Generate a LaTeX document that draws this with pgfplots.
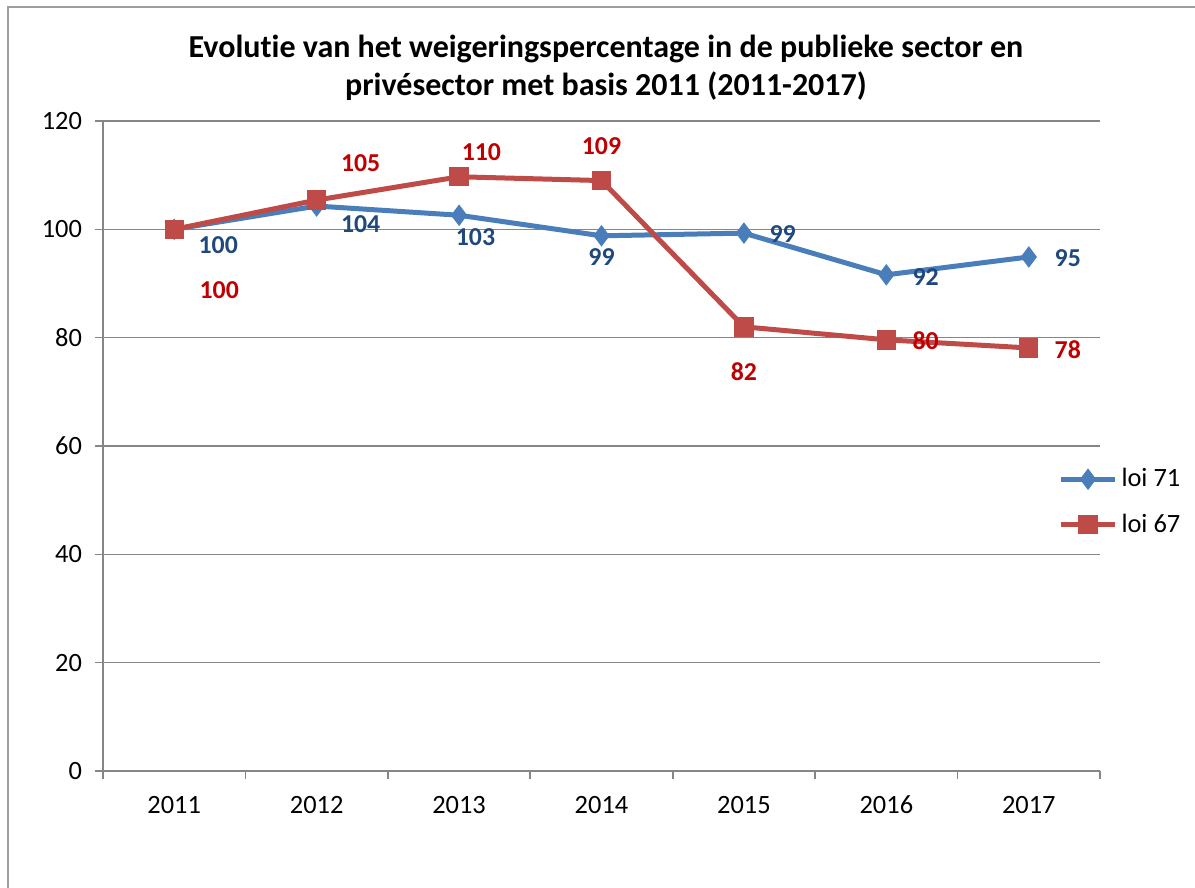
\documentclass[border=0pt]{standalone}
\usepackage{pgfplots}
\pgfplotsset{compat=1.18}
\usepackage{fontspec}
\setmainfont{Carlito}[Ligatures=NoCommon]
\definecolor{blueline}{HTML}{4A7EBB}
\definecolor{redline}{HTML}{BE4B48}
\definecolor{bluelab}{HTML}{1F497D}
\definecolor{redlab}{HTML}{C00000}
\definecolor{gridc}{HTML}{868686}
\begin{document}
\begin{tikzpicture}
\path[use as bounding box] (0,0) rectangle (597.5pt,444pt);
\draw[gridc!80, line width=0.6pt] (4pt,0) -- (4pt,440.5pt) -- (597.5pt,440.5pt);
\node[align=center, font=\fontsize{16}{19}\selectfont\bfseries] at (303pt,410pt)
  {Evolutie van het weigeringspercentage in de publieke sector en\\privésector met basis 2011 (2011-2017)};
\begin{axis}[
  at={(51.5pt,58.5pt)}, anchor=south west,
  scale only axis, width=498.5pt, height=325pt,
  xmin=-0.5, xmax=6.5, ymin=0, ymax=120,
  axis lines=left, axis line style={-, gridc, line width=0.8pt},
  xtick={-0.5,0.5,...,6.5}, x tick label as interval,
  xticklabels={2011,2012,2013,2014,2015,2016,2017},
  ytick={0,20,...,120},
  ymajorgrids, grid style={gridc, line width=0.8pt},
  tick align=outside, major tick length=4pt,
  tick style={gridc, line width=0.8pt},
  tick label style={font=\fontsize{13.2}{15}\selectfont, black},
  /pgf/number format/assume math mode=true,
  yticklabel style={xshift=-3pt},
  xticklabel style={yshift=-5pt},
  legend style={draw=none, fill=none, at={(0.958,0.414)}, anchor=west,
    font=\fontsize{13.2}{15}\selectfont, row sep=8pt, inner sep=0pt},
  legend cell align=left,
  legend image code/.code={\draw[mark repeat=2, mark phase=2, #1] plot coordinates {(0pt,0pt)(13.5pt,0pt)(27pt,0pt)};},
  clip=false,
]
\addplot[blueline, line width=2.5pt, mark=diamond*, mark size=5pt, mark options={solid, line width=0.5pt}]
  coordinates {(0,100) (1,104.3) (2,102.6) (3,98.8) (4,99.3) (5,91.6) (6,94.9)};
\addlegendentry{loi 71}
\addplot[redline, line width=2.5pt, mark=square*, mark size=4.6pt, mark options={solid, line width=0.5pt}]
  coordinates {(0,100) (1,105.4) (2,109.7) (3,109.0) (4,82.0) (5,79.6) (6,78.1)};
\addlegendentry{loi 67}
\begin{scope}[every node/.style={font=\fontsize{12.9}{14}\selectfont\bfseries}]
\node[text=bluelab] at (axis cs:0.309,97.1) {100};
\node[text=bluelab] at (axis cs:1.309,101.0) {104};
\node[text=bluelab] at (axis cs:2.115,98.6) {103};
\node[text=bluelab] at (axis cs:3.0,94.9) {99};
\node[text=bluelab] at (axis cs:4.272,99.1) {99};
\node[text=bluelab] at (axis cs:5.276,91.2) {92};
\node[text=bluelab] at (axis cs:6.274,94.7) {95};
\node[text=redlab] at (axis cs:0.316,88.8) {100};
\node[text=redlab] at (axis cs:1.309,112.2) {105};
\node[text=redlab] at (axis cs:2.157,114.3) {110};
\node[text=redlab] at (axis cs:3.0,115.4) {109};
\node[text=redlab] at (axis cs:4.0,73.7) {82};
\node[text=redlab] at (axis cs:5.276,79.4) {80};
\node[text=redlab] at (axis cs:6.274,77.7) {78};
\end{scope}
\end{axis}
\end{tikzpicture}
\end{document}
